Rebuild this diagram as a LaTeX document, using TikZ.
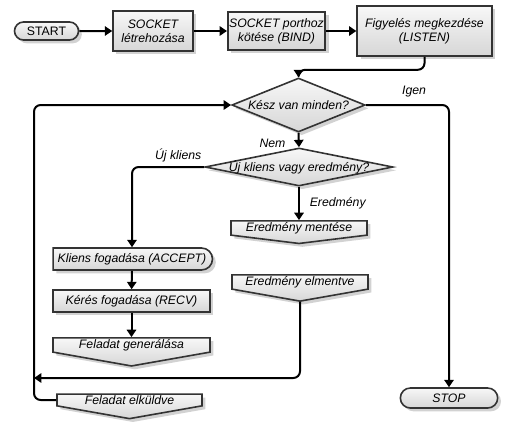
\documentclass[tikz,border=0pt]{standalone}
\usepackage{fontspec}
\setmainfont{Liberation Sans}
\usetikzlibrary{positioning,shapes.geometric,shapes.misc,shapes.symbols,shadows,arrows.meta}

\begin{document}
\begin{tikzpicture}[x=0.75pt, y=-0.75pt, >={Triangle[length=5.5pt,width=7pt]}]
    \tikzstyle{every node}+=[font=\fontsize{9.2}{10.6}\selectfont\itshape]
    \tikzstyle{block}=[draw=black!80, line width=1.2pt, top color=gray!6, bottom color=gray!32,
                       drop shadow={shadow xshift=2.5pt, shadow yshift=-2.5pt, fill=black!35},
                       inner sep=1pt, align=center]
    \tikzstyle{term}=[block, rounded rectangle]
    \tikzstyle{proc}=[block, rectangle]
    \tikzstyle{decide}=[block, diamond, inner sep=0pt]
    \tikzstyle{io}=[block, rounded rectangle, rounded rectangle left arc=none]
    \tikzstyle{offpage}=[block, signal, signal to=south, signal from=nowhere, signal pointer angle=160]
    \tikzstyle{flow}=[->, line width=1.5pt, rounded corners=5pt]
    \useasboundingbox (0, 0) rectangle (510, 425);

    % top row
    \node[term, minimum width=50pt, minimum height=13.5pt] (start) at (46.5, 31)  {\upshape START};
    \node[proc, minimum width=60pt, minimum height=30pt]   (create) at (153, 31)  {SOCKET\\létrehozása};
    \node[proc, minimum width=72.75pt, minimum height=28.5pt] (bind) at (276.5, 31) {SOCKET porthoz\\kötése (BIND)};
    \node[proc, minimum width=101pt, minimum height=37.5pt] (listen) at (424.5, 31) {Figyelés megkezdése\\(LISTEN)};

    % decisions
    \node[decide, minimum width=100pt, minimum height=40.5pt] (ready) at (298.5, 105) {\makebox[0pt]{Kész van minden?}};
    \node[decide, minimum width=141pt, minimum height=28.5pt] (kind)  at (299, 167)   {\makebox[0pt]{Új kliens vagy eredmény?}};

    % client branch
    \node[io, minimum width=121.5pt, minimum height=16.5pt]   (accept) at (132, 259)   {Kliens fogadása (ACCEPT)};
    \node[proc, minimum width=117.75pt, minimum height=16.5pt] (recv)  at (131.5, 301) {Kérés fogadása (RECV)};
    \node[offpage, minimum width=117.75pt, minimum height=12pt] (gen)  at (131.5, 345) {Feladat generálása};
    \node[offpage, minimum width=108.75pt, minimum height=12pt] (sent) at (129.5, 400) {Feladat elküldve};

    % result branch
    \node[offpage, minimum width=102pt, minimum height=13.5pt, signal pointer angle=166] (save) at (299, 228) {Eredmény mentése};
    \node[offpage, minimum width=102pt, minimum height=12pt]   (saved) at (300, 282) {Eredmény elmentve};

    \node[term, minimum width=75pt, minimum height=15pt] (stop) at (449, 398) {STOP};

    \coordinate (merge) at (34, 378);

    \draw[flow] (start) -- (create);
    \draw[flow] (create) -- (bind);
    \draw[flow] (bind) -- (listen);
    \draw[flow] (listen.south) -- ++(0, 13) -| (ready.north);
    \draw[flow] (ready.east) -| (stop.north) node[pos=0.29, above=2pt] {Igen};
    \draw[flow] (ready.south) -- (kind.north) node[pos=0.75, left=6pt] {Nem};
    \draw[flow] (kind.west) -| (accept.north) node[pos=0.18, above=0pt] {Új kliens};
    \draw[flow] (kind.south) -- (save.north) node[midway, right=4pt] {Eredmény};
    \draw[flow] (accept) -- (recv);
    \draw[flow] (recv) -- (gen);
    \draw[flow] (saved.south) |- (merge);
    \draw[flow] (sent.west) -- (sent.west -| merge) |- (ready.west);
\end{tikzpicture}
\end{document}
